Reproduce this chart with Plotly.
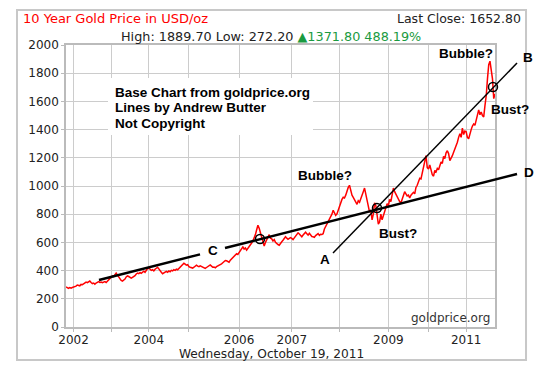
import pandas as pd
import plotly.graph_objects as go

# ---------------- data ----------------
p2001 = [284, 278, 274, 279, 276, 280]
p2002 = [282, 286, 290, 298, 296, 292, 302, 300, 306, 312, 318, 314, 322, 326, 316,
         308, 312, 304, 312, 318, 322, 316, 318, 314, 318, 322, 316, 326, 338, 345]
p2003 = [352, 362, 358, 372, 382, 368, 352, 338, 330, 325, 332, 340, 355, 362, 358,
         350, 346, 352, 356, 364, 376, 382, 378, 386, 380, 392, 396, 388, 402, 414]
p2004 = [418, 410, 402, 406, 398, 410, 416, 424, 412, 396, 388, 378, 384, 390, 394, 388,
         398, 392, 402, 398, 406, 402, 410, 406, 416, 422, 432, 444, 452, 446, 438, 442]
p2005 = [428, 424, 420, 418, 424, 430, 438, 432, 428, 434, 428, 424, 420, 416, 422, 428,
         436, 440, 432, 424, 426, 420, 428, 432, 438, 442, 448, 456, 466, 472, 470, 466,
         460, 474, 482, 492, 500, 510, 520, 514]
p2006 = [530, 545, 558, 568, 552, 560, 545, 556, 570, 585, 596, 610, 630, 655, 690, 722,
         700, 665, 640, 590, 575, 600, 620, 640, 655, 630, 625, 610, 620, 600, 590, 585,
         580, 596, 605, 615, 628, 640, 630, 622, 628, 634]
p2007 = [628, 620, 632, 645, 655, 668, 660, 650, 640, 652, 665, 672, 662, 652, 665, 648,
         642, 640, 636, 648, 655, 662, 650, 658, 656, 662, 695, 712, 730, 738, 758, 780,
         800, 828, 808, 792, 802, 828]
p2008 = [860, 880, 905, 920, 915, 935, 968, 990, 1005, 960, 935, 920, 905, 880, 870, 895,
         885, 910, 930, 960, 985, 945, 900, 860, 815, 830, 760, 800, 880, 860, 780, 730,
         745, 800, 760, 790, 820, 850, 875]
p2009 = [860, 905, 890, 930, 985, 960, 940, 920, 905, 890, 880, 905, 935, 960, 945, 930,
         935, 915, 935, 950, 955, 945, 990, 1005, 1040, 1055, 1050, 1090, 1140, 1190, 1215, 1130]
p2010 = [1120, 1150, 1105, 1080, 1070, 1110, 1100, 1125, 1115, 1150, 1170, 1160, 1210, 1195,
         1235, 1250, 1230, 1180, 1195, 1215, 1240, 1260, 1290, 1310, 1345, 1370, 1345, 1410,
         1365, 1390]
p2011 = [1385, 1345, 1335, 1375, 1400, 1425, 1440, 1430, 1470, 1510, 1540, 1505, 1525, 1500,
         1490, 1570, 1640, 1760, 1860, 1885, 1810, 1760, 1620, 1653]

segments = [
    (2001, "2001-10-19", "2001-12-27", p2001),
    (2002, "2002-01-02", "2002-12-27", p2002),
    (2003, "2003-01-02", "2003-12-26", p2003),
    (2004, "2004-01-02", "2004-12-27", p2004),
    (2005, "2005-01-03", "2005-12-27", p2005),
    (2006, "2006-01-03", "2006-12-27", p2006),
    (2007, "2007-01-02", "2007-12-27", p2007),
    (2008, "2008-01-02", "2008-12-29", p2008),
    (2009, "2009-01-02", "2009-12-28", p2009),
    (2010, "2010-01-04", "2010-12-28", p2010),
    (2011, "2011-01-04", "2011-10-19", p2011),
]

tick_years = [2002, 2003, 2004, 2005, 2006, 2007, 2008, 2009, 2010, 2011]
tick_labels = ["2002", "", "2004", "", "2006", "2007", "", "2009", "", "2011"]

title_text = "10 Year Gold Price in USD/oz"
last_close = 1652.80
high_val, low_val = 1889.70, 272.20
change_val, change_pct = 1371.80, 488.19
date_text = "Wednesday, October 19, 2011"

# ---------------- build series ----------------
dates, prices, first_of_year = [], [], {}
for yr, s, e, vals in segments:
    ds = pd.date_range(s, e, periods=len(vals)).strftime("%Y-%m-%d").tolist()
    first_of_year[yr] = ds[0]
    dates += ds
    prices += vals

YMAX = 2000.0


def yf(price):
    return price / YMAX


fig = go.Figure()
fig.add_trace(go.Scatter(x=dates, y=prices, mode="lines",
                         line=dict(color="#ff0000", width=1.5),
                         hoverinfo="x+y", showlegend=False))

grid = "#cccccc"
fig.update_layout(
    width=555, height=383,
    margin=dict(l=66, r=60, t=45, b=56),
    paper_bgcolor="white", plot_bgcolor="white",
    font=dict(family="DejaVu Sans", size=12, color="#222222"),
    xaxis=dict(type="category", categoryorder="array", categoryarray=dates,
               tickmode="array", tickvals=[first_of_year[y] for y in tick_years],
               ticktext=tick_labels, range=[0, len(dates) - 1], autorange=False,
               showgrid=True, gridcolor=grid, gridwidth=1,
               ticks="outside", ticklen=3, tickcolor="#bbbbbb",
               ticklabelstandoff=-2,
               showline=True, mirror=True, linecolor="#bbbbbb", linewidth=1.5,
               zeroline=False, tickangle=0),
    yaxis=dict(range=[0, YMAX], tickmode="array",
               tickvals=list(range(0, 2001, 200)),
               showgrid=True, gridcolor=grid, gridwidth=1,
               ticks="outside", ticklen=3, tickcolor="#bbbbbb",
               showline=True, mirror=True, linecolor="#bbbbbb", linewidth=1.5,
               zeroline=False),
)

shapes = []
# outer chart border
shapes.append(dict(type="rect", xref="paper", yref="paper",
                   x0=-0.1142, x1=1.0723, y0=-0.1170, y1=1.1241,
                   line=dict(color="#c8c8c8", width=2), layer="above"))
# white box behind the credit text
shapes.append(dict(type="rect", xref="paper", yref="paper",
                   x0=0.0979, x1=0.5758, y0=0.6809, y1=0.8830,
                   fillcolor="white", line=dict(width=0), layer="above"))
# trend line C -> D (with a gap for the label C)
shapes.append(dict(type="line", xref="paper", yref="paper",
                   x0=0.0769, y0=yf(333), x1=0.3124, y1=yf(515),
                   line=dict(color="black", width=2.5), layer="above"))
shapes.append(dict(type="line", xref="paper", yref="paper",
                   x0=0.3706, y0=yf(560), x1=1.0513, y1=yf(1085),
                   line=dict(color="black", width=2.5), layer="above"))
# trend line A -> B
shapes.append(dict(type="line", xref="paper", yref="paper",
                   x0=0.6224, y0=yf(525), x1=1.0513, y1=yf(1872),
                   line=dict(color="black", width=1.5), layer="above"))
# crossing circles
for cx, cp in [(0.4522, 624), (0.7249, 844), (0.9953, 1702)]:
    shapes.append(dict(type="circle", xref="paper", yref="paper",
                       xsizemode="pixel", ysizemode="pixel",
                       xanchor=cx, yanchor=yf(cp),
                       x0=-4.5, x1=4.5, y0=-4.5, y1=4.5,
                       line=dict(color="black", width=1.5), layer="above"))
fig.update_layout(shapes=shapes)

bold = dict(family="Liberation Sans, Arial", size=13.5, color="black")
ann = []


def lab(text, x, y, xanchor="center", font=None):
    ann.append(dict(text=text, x=x, y=y, xref="paper", yref="paper",
                    xanchor=xanchor, yanchor="middle", showarrow=False,
                    font=font or bold))


lab("<b>Bubble?</b>", 0.9324, 0.9716)
lab("<b>Bubble?</b>", 0.6037, 0.5355)
lab("<b>Bust?</b>", 0.7739, 0.3333)
lab("<b>Bust?</b>", 1.0350, 0.7730)
lab("<b>A</b>", 0.6037, 0.2411)
lab("<b>B</b>", 1.0769, 0.9574)
lab("<b>C</b>", 0.3427, 0.2730)
lab("<b>D</b>", 1.0793, 0.5461)
lab("<b>Base Chart from goldprice.org</b>", 0.1096, 0.8333, "left")
lab("<b>Lines by Andrew Butter</b>", 0.1096, 0.7801, "left")
lab("<b>Not Copyright</b>", 0.1096, 0.7234, "left")

hdr = dict(family="DejaVu Sans", size=12.5, color="#222222")
lab(title_text, -0.1049, 1.0922, "left",
    dict(family="DejaVu Sans", size=13, color="#ff0000"))
lab(f"Last Close: {last_close:.2f}", 1.0653, 1.0922, "right", hdr)
lab(f"High: {high_val:.2f} Low: {low_val:.2f} "
    f"<span style='color:#1a9a40'>▲{change_val:.2f} {change_pct:.2f}%</span>",
    0.478, 1.0319, "center", dict(family="DejaVu Sans", size=12.8, color="#222222"))
lab(date_text, 0.478, -0.0960, "center",
    dict(family="DejaVu Sans", size=12.2, color="#222222"))
lab("goldprice.org", 0.993, 0.0319, "right",
    dict(family="DejaVu Sans", size=12, color="#333333"))
fig.update_layout(annotations=ann)

fig.write_html("out.html",
               config={"displayModeBar": False},
               post_script="document.body.style.margin='0';document.body.style.padding='0';")
